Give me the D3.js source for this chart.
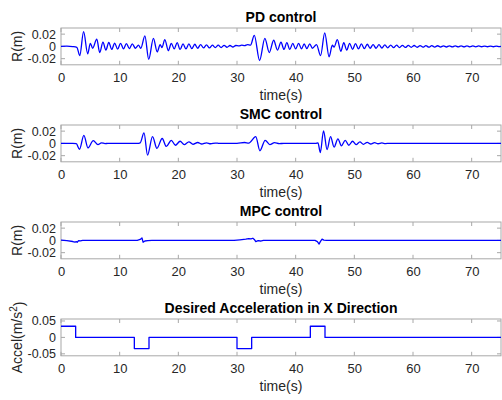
<!DOCTYPE html>
<html>
<head>
<meta charset="utf-8">
<script src="https://cdn.jsdelivr.net/npm/d3@7/dist/d3.min.js"></script>
<style>
  html, body { margin: 0; padding: 0; background: #fff; }
  svg { display: block; font-family: "Liberation Sans", Arial, Helvetica, sans-serif; }
</style>
</head>
<body>
<svg id="chart" width="502" height="400"></svg>
<script>
// ---- data ----
const xTicks = [0, 10, 20, 30, 40, 50, 60, 70];
const rTicks = [-0.02, 0, 0.02];
const rTickLabels = ["-0.02", "0", "0.02"];
const accelTicks = [-0.05, 0, 0.05];
const accelTickLabels = ["-0.05", "0", "0.05"];
const titles = ["PD control", "SMC control", "MPC control", "Desired Acceleration in X Direction"];

// PD controller position error (s, m)
const pdTime = [0, 1.0, 2.0, 2.7, 3.2, 3.85, 4.55, 5.0, 5.4, 6.1, 6.6, 7.15, 7.65, 8.15, 8.65, 9.15, 9.65,
  10.15, 10.65, 11.15, 11.65, 12.15, 12.7, 13.2, 13.6, 14.3, 14.95, 15.75, 16.4, 16.9, 17.2, 17.7, 18.3,
  18.8, 19.3, 19.8, 20.3, 20.8, 21.3, 21.8, 22.3, 22.8, 23.3, 23.8, 24.3, 24.8, 25.3, 25.8, 26.3, 26.8,
  27.3, 27.8, 28.3, 28.8, 29.3, 29.8, 30.3, 30.8, 31.3, 31.8, 32.3, 32.95, 33.85, 34.75, 35.5, 36.25,
  36.9, 37.5, 38.0, 38.5, 39.0, 39.5, 40.0, 40.5, 41.0, 41.45, 41.9, 42.4, 42.85, 43.55, 44.25, 44.95,
  45.7, 46.25, 46.55, 47.1, 47.7, 48.2, 48.7, 49.2, 49.7, 50.2, 50.7, 51.2, 51.7, 52.2, 52.7, 53.2, 53.7,
  54.2, 54.7, 55.2, 55.7, 56.2, 56.7, 57.2, 57.7, 58.2, 58.7, 59.2, 59.7, 60.2, 60.7, 61.2, 61.7, 62.2,
  62.7, 63.2, 63.7, 64.2, 64.7, 65.2, 65.7, 66.2, 66.7, 67.2, 67.7, 68.2, 68.7, 69.2, 69.7, 70.2, 70.7,
  71.2, 71.7, 72.2, 72.7, 73.2, 73.7, 74.2, 74.7, 75];
const pdR = [0, 0.0003, -0.0003, -0.0015, -0.015, 0.024, -0.012, 0.005, -0.003, 0.012, -0.010, 0.007, -0.006,
  0.0065, -0.005, 0.0055, -0.0045, 0.005, -0.004, 0.0045, -0.0035, 0.004, -0.003, 0.002, -0.003, 0.017,
  -0.021, 0.013, -0.009, 0.003, -0.002, 0.011, -0.007, 0.005, -0.004, 0.006, -0.005, 0.004, -0.004, 0.004,
  -0.0035, 0.0035, -0.003, 0.003, -0.0025, 0.0025, -0.0025, 0.002, -0.002, 0.002, -0.0018, 0.0018, -0.0015,
  0.0015, -0.001, 0.0015, 0.0008, 0.002, 0.0012, 0.0028, 0.002, 0.018, -0.023, 0.013, -0.010, 0.010,
  -0.006, 0.007, -0.005, 0.006, -0.005, 0.005, -0.004, 0.005, -0.004, 0.004, -0.0035, 0.004, -0.003, 0.003,
  -0.015, 0.022, -0.017, 0.002, -0.001, 0.011, -0.008, 0.006, -0.006, 0.005, -0.005, 0.0045, -0.004, 0.004,
  -0.0035, 0.0035, -0.003, 0.003, -0.003, 0.0028, -0.0026, 0.0025, -0.0024, 0.0022, -0.0021, 0.002, -0.0019,
  0.0018, -0.0017, 0.0016, -0.0015, 0.0015, -0.0014, 0.0014, -0.0013, 0.0013, -0.0012, 0.0012, -0.0011,
  0.0011, -0.001, 0.001, -0.001, 0.0009, -0.0009, 0.0009, -0.0008, 0.0008, -0.0008, 0.0008, -0.0007,
  0.0007, -0.0007, 0.0007, -0.0006, 0.0006, -0.0006, 0.0006, -0.0006, 0.0005, -0.0005, 0];

// SMC controller position error (s, m)
const smcTime = [0, 2.0, 2.6, 3.15, 3.9, 4.6, 5.5, 6.3, 6.9, 7.5, 8.0, 13.0, 13.5, 14.15, 14.75, 15.6, 16.35,
  17.25, 17.95, 18.8, 19.5, 20.3, 21.0, 21.8, 22.5, 23.3, 24.0, 24.8, 25.5, 26.3, 27.0, 30.0, 31.3, 32.0,
  33.2, 33.9, 34.8, 35.6, 36.4, 37.2, 38.0, 43.4, 43.8, 44.2, 44.75, 45.35, 45.95, 46.55, 47.2, 47.8,
  48.45, 49.05, 49.7, 50.3, 50.95, 51.55, 52.2, 52.8, 53.45, 54.05, 54.7, 55.3, 56.0, 57.0, 75];
const smcR = [0, 0, -0.0005, -0.0095, 0.013, -0.0075, 0.0045, -0.002, 0.001, -0.0003, 0, 0, 0.001, 0.017,
  -0.019, 0.011, -0.008, 0.008, -0.005, 0.005, -0.003, 0.0035, -0.002, 0.0025, -0.0015, 0.0015, -0.001,
  0.001, -0.0006, 0.0006, 0, 0, 0.0015, 0.0005, 0.011, -0.012, 0.005, -0.002, 0.0012, -0.0004, 0, 0,
  0.001, -0.015, 0.0205, -0.010, 0.011, -0.006, 0.0075, -0.004, 0.005, -0.003, 0.0035, -0.002, 0.0025,
  -0.0015, 0.0018, -0.001, 0.0012, -0.0006, 0.0007, -0.0003, 0.0002, 0, 0];

// MPC controller position error (s, m)
const mpcTime = [0, 1.0, 2.0, 2.4, 2.6, 2.75, 3.0, 3.3, 3.7, 13.0, 13.5, 13.8, 14.0, 14.3, 14.8, 15.5, 29.5,
  30.5, 31.5, 32.0, 32.4, 32.7, 33.0, 33.2, 33.6, 34.0, 34.5, 43.3, 43.7, 44.0, 44.2, 44.5, 44.8, 45.3, 75];
const mpcR = [0.0005, -0.0005, -0.0018, -0.0028, -0.002, -0.003, -0.0003, -0.0008, 0, 0, 0.0015, 0.004,
  -0.003, -0.001, -0.0005, 0, 0, 0.001, 0.002, 0.003, 0.0025, 0.0035, 0.001, -0.002, -0.0005, -0.001, 0, 0,
  -0.002, -0.006, -0.002, 0.002, 0.0005, 0, 0];

// desired acceleration (s, m/s^2), held until the next breakpoint
const accelTime = [0, 2.5, 12.5, 15, 30, 32.5, 42.5, 45, 75];
const accelValue = [0.034, 0, -0.034, 0, -0.034, 0, 0.034, 0, 0];

// ---- layout ----
const svg = d3.select("#chart");
const left = 61, right = 501;
const tops = [28, 125, 222, 319];
const plotH = 36.8;
const lineColor = "#0000ff";
const axisColor = "#a8a8a8";
const textColor = "#262626";

const x = d3.scaleLinear().domain([0, 75]).range([left, right]);

const panels = [
  { time: pdTime, val: pdR, ticks: rTicks, labels: rTickLabels, dom: [-0.03, 0.03], curve: d3.curveMonotoneX, ylab: "R(m)" },
  { time: smcTime, val: smcR, ticks: rTicks, labels: rTickLabels, dom: [-0.03, 0.03], curve: d3.curveMonotoneX, ylab: "R(m)" },
  { time: mpcTime, val: mpcR, ticks: rTicks, labels: rTickLabels, dom: [-0.03, 0.03], curve: d3.curveLinear, ylab: "R(m)" },
  { time: accelTime, val: accelValue, ticks: accelTicks, labels: accelTickLabels, dom: [-0.056, 0.056], curve: d3.curveStepAfter, ylab: "accel" }
];

panels.forEach((p, i) => {
  const top = tops[i], bottom = top + plotH;
  const y = d3.scaleLinear().domain(p.dom).range([bottom, top]);
  const g = svg.append("g");

  // clip region for the trace
  const clipId = "clip" + i;
  svg.append("clipPath").attr("id", clipId)
    .append("rect").attr("x", left).attr("y", top).attr("width", right - left).attr("height", plotH);

  // box
  g.append("rect").attr("x", left).attr("y", top).attr("width", right - left).attr("height", plotH)
    .attr("fill", "#fff").attr("stroke", axisColor).attr("stroke-width", 1);

  // x axis: labels below, inward ticks on bottom and top
  const xAxis = d3.axisBottom(x).tickValues(xTicks).tickSize(0).tickPadding(0).tickFormat(d3.format("d"));
  const xa = g.append("g").attr("transform", `translate(0,${bottom})`).call(xAxis);
  xa.select(".domain").remove();
  xa.selectAll("text").attr("y", 12.5).attr("dy", "0.35em")
    .attr("fill", textColor).style("font-size", "13px").style("font-family", "Liberation Sans, Arial, sans-serif");
  xTicks.forEach(t => {
    g.append("line").attr("x1", x(t)).attr("x2", x(t)).attr("y1", bottom).attr("y2", bottom - 4)
      .attr("stroke", axisColor);
    g.append("line").attr("x1", x(t)).attr("x2", x(t)).attr("y1", top).attr("y2", top + 4)
      .attr("stroke", axisColor);
  });

  // y axis: labels on the left, inward ticks on both sides
  const yAxis = d3.axisLeft(y).tickValues(p.ticks).tickSize(0).tickPadding(5)
    .tickFormat((d, k) => p.labels[k]);
  const ya = g.append("g").attr("transform", `translate(${left},0)`).call(yAxis);
  ya.select(".domain").remove();
  ya.selectAll("text").attr("fill", textColor).style("font-size", "12.5px")
    .style("font-family", "Liberation Sans, Arial, sans-serif");
  p.ticks.forEach(t => {
    g.append("line").attr("x1", left).attr("x2", left + 4).attr("y1", y(t)).attr("y2", y(t)).attr("stroke", axisColor);
    g.append("line").attr("x1", right - 4).attr("x2", right).attr("y1", y(t)).attr("y2", y(t)).attr("stroke", axisColor);
  });

  // trace
  const line = d3.line().x((d, k) => x(p.time[k])).y((d, k) => y(p.val[k])).curve(p.curve);
  g.append("path").datum(p.val).attr("d", line).attr("clip-path", `url(#${clipId})`)
    .attr("fill", "none").attr("stroke", lineColor).attr("stroke-width", 1.3).attr("stroke-linejoin", "round");

  // title
  g.append("text").attr("x", (left + right) / 2).attr("y", top - 10.5).attr("dy", "0.35em")
    .attr("text-anchor", "middle").attr("font-weight", "bold").attr("font-size", 14).attr("fill", "#000")
    .text(titles[i]);

  // x label
  g.append("text").attr("x", (left + right) / 2).attr("y", bottom + 30).attr("dy", "0.35em")
    .attr("text-anchor", "middle").attr("font-size", 14).attr("fill", textColor).text("time(s)");

  // y label
  const yl = g.append("text").attr("transform", `translate(17,${top + plotH / 2}) rotate(-90)`)
    .attr("dy", "0.35em").attr("text-anchor", "middle").attr("font-size", 14).attr("fill", textColor);
  if (p.ylab === "accel") {
    yl.append("tspan").text("Accel(m/s");
    yl.append("tspan").attr("dy", "-0.45em").attr("font-size", 10).text("2");
    yl.append("tspan").attr("dy", "0.45em").text(")");
  } else {
    yl.text(p.ylab);
  }
});
</script>
</body>
</html>
